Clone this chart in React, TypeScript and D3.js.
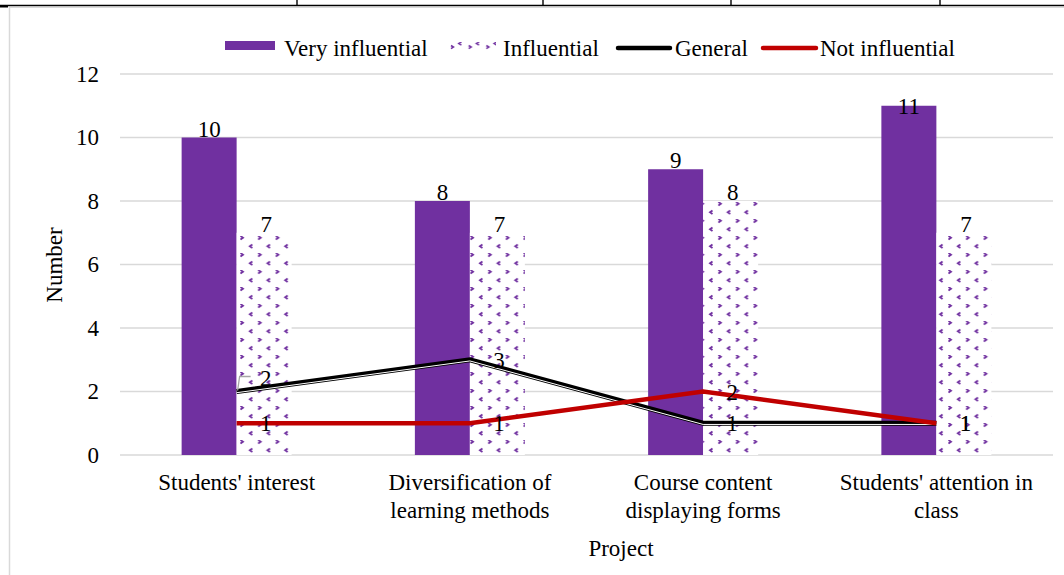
import React from "react";
import * as d3 from "d3";

const categories: string[][] = [
  ["Students' interest"],
  ["Diversification of", "learning methods"],
  ["Course content", "displaying forms"],
  ["Students' attention in", "class"],
];
const veryInfluential = [10, 8, 9, 11];
const influential = [7, 7, 8, 7];
const general = [2, 3, 1, 1];
const notInfluential = [1, 1, 2, 1];
const yTicks = [0, 2, 4, 6, 8, 10, 12];
const topTicks = [297, 543, 731, 940];

const W = 1064;
const H = 575;
const PURPLE = "#7030A0";
const RED = "#C00000";
const GRID = "#d9d9d9";
const FONT = "'Liberation Serif', 'Times New Roman', serif";
const FS = 23;

export default function App() {
  const keys = categories.map((c) => c.join(" "));
  const x0 = d3.scaleBand<string>().domain(keys).range([120, 1053]).padding(0);
  const xc = (i: number) => (x0(keys[i]) as number) + x0.bandwidth() / 2;
  const x1 = d3.scaleBand<string>().domain(["v", "i"]).range([-55, 55]);
  const y = d3.scaleLinear().domain([0, 12]).range([455, 74]);

  const line = d3
    .line<number>()
    .x((_, i) => xc(i))
    .y((d) => y(d));

  const labelBase = (v: number) => Math.max(y(v) - 1, 114);

  return (
    <svg
      width={W}
      height={H}
      style={{ position: "absolute", left: 0, top: 0, background: "#fff" }}
      fontFamily={FONT}
    >
      <defs>
        <pattern id="dots" patternUnits="userSpaceOnUse" width={17.7} height={17} x={240} y={236}>
          <rect width={17.7} height={17} fill="#fff" />
          <path d="M0.5,0 L3,1.8 L0.5,3.6" fill="none" stroke={PURPLE} strokeWidth={1.8} />
          <path d="M12.3,8.5 L9.8,10.3 L12.3,12.1" fill="none" stroke={PURPLE} strokeWidth={1.8} />
        </pattern>
        <pattern id="dotsLeg" patternUnits="userSpaceOnUse" width={17.7} height={17} x={449} y={42}>
          <rect width={17.7} height={17} fill="#fff" />
          <path d="M12.3,0 L9.8,1.6 L12.3,3.2" fill="none" stroke={PURPLE} strokeWidth={1.6} />
          <path d="M2,3.5 L4.4,5.1 L2,6.7" fill="none" stroke={PURPLE} strokeWidth={1.6} />
        </pattern>
      </defs>

      {/* top decoration */}
      <line x1={0} x2={W} y1={5.5} y2={5.5} stroke="#000" strokeWidth={1.6} />
      <rect x={0} y={5} width={8} height={2.5} fill="#000" />
      {topTicks.map((t) => (
        <line key={t} x1={t} x2={t} y1={0} y2={5.5} stroke="#000" strokeWidth={1.4} />
      ))}
      {/* chart area border */}
      <line x1={9} x2={W} y1={7.5} y2={7.5} stroke={GRID} strokeWidth={1.2} />
      <line x1={9.5} x2={9.5} y1={7} y2={H} stroke={GRID} strokeWidth={1.5} />

      {/* gridlines */}
      {yTicks.map((t) => (
        <g key={t}>
          <line x1={120} x2={1053} y1={y(t)} y2={y(t)} stroke={GRID} strokeWidth={1.5} />
          <text x={99} y={y(t) + 7.5} textAnchor="end" fontSize={FS} fill="#000">
            {t}
          </text>
        </g>
      ))}

      {/* bars */}
      {veryInfluential.map((v, i) => (
        <rect
          key={"v" + i}
          x={xc(i) + (x1("v") as number)}
          y={y(v)}
          width={x1.bandwidth()}
          height={y(0) - y(v)}
          fill={PURPLE}
        />
      ))}
      {influential.map((v, i) => (
        <rect
          key={"i" + i}
          x={xc(i) + (x1("i") as number)}
          y={y(v)}
          width={x1.bandwidth()}
          height={y(0) - y(v)}
          fill="url(#dots)"
        />
      ))}
      {veryInfluential.map((v, i) => (
        <text
          key={"vl" + i}
          x={xc(i) + (x1("v") as number) + x1.bandwidth() / 2}
          y={labelBase(v)}
          textAnchor="middle"
          fontSize={FS}
        >
          {v}
        </text>
      ))}
      {influential.map((v, i) => (
        <text
          key={"il" + i}
          x={xc(i) + (x1("i") as number) + x1.bandwidth() / 2 + 2}
          y={labelBase(v)}
          textAnchor="middle"
          fontSize={FS}
        >
          {v}
        </text>
      ))}

      {/* general line (double) */}
      <path d={line(general) as string} fill="none" stroke="#000" strokeWidth={5} />
      <path
        d={line(general) as string}
        fill="none"
        stroke="#fff"
        strokeWidth={1}
        transform="translate(0,1.2)"
      />
      {/* not influential line */}
      <path d={line(notInfluential) as string} fill="none" stroke={RED} strokeWidth={4.5} />

      {/* leader line for first general label */}
      <polyline
        points={`${xc(0) + 1},${y(general[0]) - 1} ${xc(0) + 3},${y(general[0]) - 15} ${xc(0) + 14},${y(general[0]) - 15}`}
        fill="none"
        stroke="#a6a6a6"
        strokeWidth={1.3}
      />

      {/* line labels */}
      {general.map((v, i) => (
        <text
          key={"gl" + i}
          x={xc(i) + 29}
          y={y(v) + 8 + (i === 0 ? -14 : 0)}
          textAnchor="middle"
          fontSize={FS}
        >
          {v}
        </text>
      ))}
      {notInfluential.map((v, i) => (
        <text key={"nl" + i} x={xc(i) + 29} y={y(v) + 8} textAnchor="middle" fontSize={FS}>
          {v}
        </text>
      ))}

      {/* category labels */}
      {categories.map((lines, i) => (
        <text key={"c" + i} x={xc(i)} y={490} textAnchor="middle" fontSize={FS}>
          {lines.map((l, j) => (
            <tspan key={j} x={xc(i)} dy={j === 0 ? 0 : 28}>
              {l}
            </tspan>
          ))}
        </text>
      ))}

      {/* axis titles */}
      <text x={621} y={556} textAnchor="middle" fontSize={FS}>
        Project
      </text>
      <text transform="translate(62,265) rotate(-90)" textAnchor="middle" fontSize={FS}>
        Number
      </text>

      {/* legend */}
      <rect x={225} y={41} width={50} height={9} fill={PURPLE} />
      <text x={284} y={56} fontSize={FS}>
        Very influential
      </text>
      <rect x={448} y={42} width={48} height={8} fill="url(#dotsLeg)" />
      <text x={503} y={56} fontSize={FS}>
        Influential
      </text>
      <line x1={618} x2={670} y1={48} y2={48} stroke="#000" strokeWidth={4.5} strokeLinecap="round" />
      <text x={675} y={56} fontSize={FS}>
        General
      </text>
      <line x1={763} x2={816} y1={48} y2={48} stroke={RED} strokeWidth={4.5} strokeLinecap="round" />
      <text x={820} y={56} fontSize={FS}>
        Not influential
      </text>
    </svg>
  );
}
